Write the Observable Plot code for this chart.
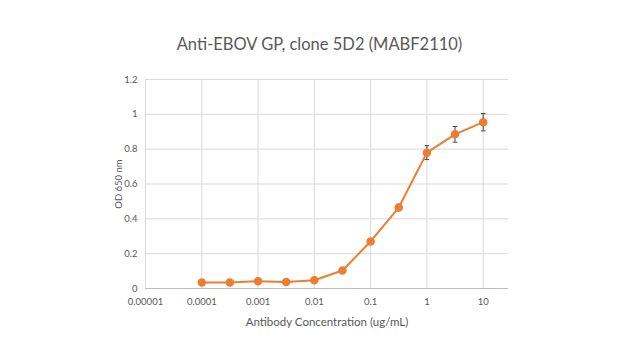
<!DOCTYPE html>
<html><head><meta charset="utf-8">
<script src="https://cdn.jsdelivr.net/npm/d3@7"></script>
<script src="https://cdn.jsdelivr.net/npm/@observablehq/plot@0.6"></script>
<style>
body{margin:0;background:#fff;width:639px;height:360px;overflow:hidden;font-family:Lato,"Open Sans",sans-serif;}
#title{height:62px;box-sizing:border-box;padding-top:34px;text-align:center;font-size:16.5px;color:#595959;line-height:20px;}
</style></head><body>
<div id="title">Anti-EBOV GP, clone 5D2 (MABF2110)</div>
<div id="chart"></div>
<script>
const concentrations = [0.0001, 0.000316, 0.001, 0.00316, 0.01, 0.0316, 0.1, 0.316, 1, 3.16, 10];
const od650 = [0.034, 0.035, 0.042, 0.037, 0.047, 0.103, 0.27, 0.465, 0.78, 0.885, 0.955];
const errors = [0.004, 0.004, 0.005, 0.004, 0.005, 0.006, 0.01, 0.018, 0.04, 0.045, 0.05];
const xTicks = [0.00001, 0.0001, 0.001, 0.01, 0.1, 1, 10];
const xTickLabels = ["0.00001", "0.0001", "0.001", "0.01", "0.1", "1", "10"];
const yTicks = [0, 0.2, 0.4, 0.6, 0.8, 1, 1.2];
const yTickLabels = ["0", "0.2", "0.4", "0.6", "0.8", "1", "1.2"];

const data = concentrations.map((x, i) => ({x, y: od650[i], e: errors[i]}));
const orange = "#ED7D31";
const grey = "#595959";
const xLabelOf = d => xTickLabels[xTicks.findIndex(t => Math.abs(Math.log10(t) - Math.log10(d)) < 1e-6)];
const yLabelOf = d => yTickLabels[yTicks.findIndex(t => Math.abs(t - d) < 1e-9)];

const chart = Plot.plot({
  width: 639,
  height: 298,
  marginTop: 17,
  marginBottom: 72,
  marginLeft: 145,
  marginRight: 131,
  style: {fontFamily: "Lato, 'Open Sans', sans-serif", fontSize: "9.5px", color: grey, background: "#fff"},
  x: {type: "log", domain: [0.00001, Math.pow(10, 1.45)]},
  y: {domain: [0, 1.2]},
  marks: [
    Plot.gridX(xTicks, {stroke: "#d9d9d9", strokeOpacity: 1}),
    Plot.gridY(yTicks.slice(1), {stroke: "#d9d9d9", strokeOpacity: 1}),
    Plot.ruleY([0], {stroke: "#bfbfbf"}),
    Plot.axisX({ticks: xTicks, tickSize: 0, tickPadding: 10, tickFormat: xLabelOf, label: null, fontSize: 9.5}),
    Plot.axisX({ticks: [], tickSize: 0, label: "Antibody Concentration (ug/mL)", labelAnchor: "center", labelArrow: "none", labelOffset: 37, fontSize: 11.5}),
    Plot.axisY({ticks: yTicks, tickSize: 0, tickPadding: 8, tickFormat: yLabelOf, label: "OD 650 nm", labelAnchor: "center", labelArrow: "none", labelOffset: 30, fontSize: 9.5}),
    Plot.line(data, {x: "x", y: "y", stroke: orange, strokeWidth: 2}),
    Plot.ruleX(data, {x: "x", y1: d => d.y - d.e, y2: d => d.y + d.e, stroke: "#404040", strokeWidth: 1}),
    Plot.link(data, {x1: d => d.x / 1.1, x2: d => d.x * 1.1, y1: d => d.y - d.e, y2: d => d.y - d.e, stroke: "#404040", strokeWidth: 1}),
    Plot.link(data, {x1: d => d.x / 1.1, x2: d => d.x * 1.1, y1: d => d.y + d.e, y2: d => d.y + d.e, stroke: "#404040", strokeWidth: 1}),
    Plot.dot(data, {x: "x", y: "y", r: 3.5, fill: orange, stroke: orange})
  ]
});
document.getElementById("chart").appendChild(chart);
</script>
</body></html>
